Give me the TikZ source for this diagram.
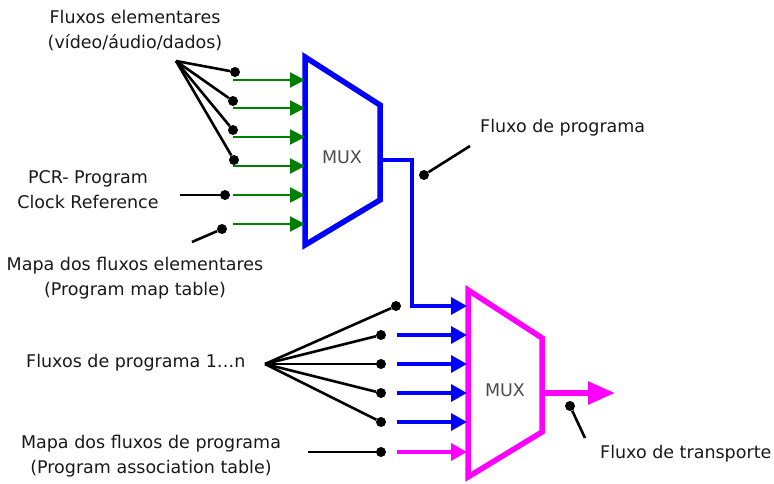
\documentclass[tikz,border=0pt]{standalone}
\usepackage{fontspec}
\setmainfont{DejaVu Sans}
\usetikzlibrary{arrows.meta}
\definecolor{txt}{RGB}{25,25,25}
\definecolor{gr}{RGB}{0,128,0}
\definecolor{bl}{RGB}{0,0,255}
\definecolor{mg}{RGB}{255,0,255}
\begin{document}
\begin{tikzpicture}[x=1pt,y=-1pt,
  lbl/.style={font=\fontsize{17.5}{25}\selectfont, text=txt, align=center, inner sep=0pt},
  muxlbl/.style={font=\fontsize{17.5}{20}\selectfont, text=black!70, inner sep=0pt},
  dot/.style={circle,fill=black,inner sep=0pt,minimum size=10pt},
  wire/.style={line width=2.6pt, black},
  garrow/.style={line width=2.2pt, gr, -{Triangle[length=15pt,width=15pt]}},
  barrow/.style={line width=3.5pt, bl, -{Triangle[length=16pt,width=17pt]}},
  marrow/.style={line width=3.5pt, mg, -{Triangle[length=16pt,width=17pt]}},
  bigarrow/.style={line width=5.5pt, mg, -{Triangle[length=27pt,width=22pt]}},
]
\useasboundingbox (0,0) rectangle (774,484);

% top MUX
\draw[bl, line width=5.5pt, line join=miter] (305,57) -- (380,105) -- (380,200) -- (305,245) -- cycle;
\node[muxlbl] (mux1) at (342,157) {MUX};
% bottom MUX
\draw[mg, line width=5.5pt, line join=miter] (468,290) -- (542,338) -- (542,432) -- (468,477) -- cycle;
\node[muxlbl] (mux2) at (505,390) {MUX};

% labels
\node[lbl] (fe) at (135,31) {Fluxos elementares\\(vídeo/áudio/dados)};
\node[lbl] (pcr) at (88,190) {PCR- Program\\Clock Reference};
\node[lbl] (pmt) at (135,278) {Mapa dos fluxos elementares\\(Program map table)};
\node[lbl, anchor=west] (fp) at (480,128) {Fluxo de programa};
\node[lbl, anchor=west] (fpn) at (26,363) {Fluxos de programa 1…n};
\node[lbl] (pat) at (151,456) {Mapa dos fluxos de programa\\(Program association table)};
\node[lbl, anchor=west] (ft) at (600,454) {Fluxo de transporte};

% top inputs
\coordinate (c1) at (176,61);
\foreach \i/\dx/\dy/\ay in {1/235/72/80, 2/233/101/108, 3/233/130/137, 4/234/160/166}{
  \node[dot] (e\i) at (\dx,\dy) {};
  \draw[wire] (c1) -- (e\i);
  \coordinate (es\i) at (233,\ay);
  \coordinate (ee\i) at (305,\ay);
  \draw[garrow] (es\i) -- (ee\i);
}
\coordinate (pcrs) at (180,195);
\node[dot] (pcrd) at (225,195) {};
\draw[wire] (pcrs) -- (pcrd);
\coordinate (es5) at (233,195); \coordinate (ee5) at (305,195);
\draw[garrow] (es5) -- (ee5);
\coordinate (pmts) at (192,242);
\node[dot] (pmtd) at (222,229) {};
\draw[wire] (pmts) -- (pmtd);
\coordinate (es6) at (233,224); \coordinate (ee6) at (305,224);
\draw[garrow] (es6) -- (ee6);

% program stream connection
\coordinate (o1) at (380,160);
\coordinate (in1) at (467,306);
\draw[barrow, line join=miter] (o1) -- (412,160) -- (412,306) -- (in1);
\node[dot] (fpd) at (424,175) {};
\coordinate (fpe) at (470,146);
\draw[wire] (fpd) -- (fpe);

% bottom inputs
\coordinate (c2) at (265,364);
\node[dot] (p1) at (396,306) {};
\draw[wire] (c2) -- (p1);
\foreach \i/\y in {2/335, 3/364, 4/393, 5/422}{
  \node[dot] (p\i) at (381,\y) {};
  \draw[wire] (c2) -- (p\i);
  \coordinate (ps\i) at (397,\y);
  \coordinate (pe\i) at (467,\y);
  \draw[barrow] (ps\i) -- (pe\i);
}
\coordinate (pats) at (308,452);
\node[dot] (patd) at (381,452) {};
\draw[wire] (pats) -- (patd);
\coordinate (ps6) at (397,452); \coordinate (pe6) at (467,452);
\draw[marrow] (ps6) -- (pe6);

% output
\coordinate (o2) at (542,393);
\coordinate (oe) at (615,393);
\draw[bigarrow] (o2) -- (oe);
\node[dot] (ftd) at (570,406) {};
\coordinate (fte) at (585,438);
\draw[wire] (ftd) -- (fte);
\end{tikzpicture}
\end{document}
